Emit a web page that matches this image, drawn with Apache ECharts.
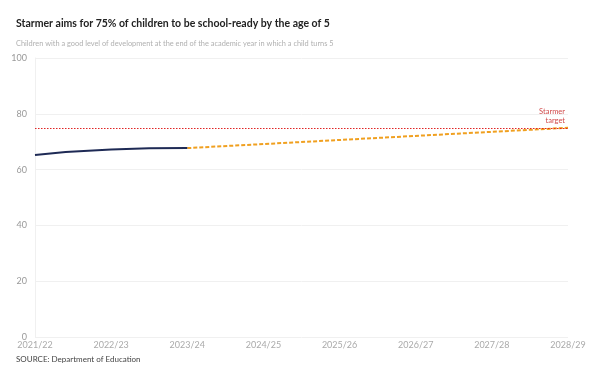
<!DOCTYPE html>
<html><head><meta charset="utf-8">
<script src="https://cdn.jsdelivr.net/npm/echarts@6/dist/echarts.min.js"></script>
<style>html,body{margin:0;padding:0;background:#fff}#c{width:600px;height:382px}</style>
</head><body><div id="c"></div>
<script>
const categories = ['2021/22','2022/23','2023/24','2024/25','2025/26','2026/27','2027/28','2028/29'];
const actual = [65.2, 67.2, 67.7, null, null, null, null, null];
const projected = [null, null, 67.7, null, null, null, null, 75];
const target = 75;
const yTicks = [0, 20, 40, 60, 80, 100];

const chart = echarts.init(document.getElementById('c'));
chart.setOption({
  animation: false,
  title: [
    {text: 'Starmer aims for 75% of children to be school-ready by the age of 5', left: 11, top: 13,
     textStyle: {fontFamily: 'Lato', fontWeight: 'bold', fontSize: 10.5, color: '#222'}},
    {text: 'Children with a good level of development at the end of the academic year in which a child turns 5', left: 11, top: 35,
     textStyle: {fontFamily: 'Lato', fontWeight: 'normal', fontSize: 7.4, color: '#b0b0b0'}},
    {text: 'SOURCE: Department of Education', left: 11, top: 350,
     textStyle: {fontFamily: 'Lato', fontWeight: 'normal', fontSize: 8, color: '#444'}}
  ],
  grid: {left: 35, right: 32, top: 58, bottom: 45},
  xAxis: {type: 'category', data: categories, boundaryGap: false,
    axisLine: {show: false}, axisTick: {show: false},
    splitLine: {show: false},
    axisLabel: {color: '#aaa', fontSize: 9, fontFamily: 'Lato', margin: 4}},
  yAxis: {type: 'value', min: yTicks[0], max: yTicks[yTicks.length-1], interval: 20,
    axisLine: {show: true, lineStyle: {color: '#f0f0f0'}}, axisTick: {show: false},
    splitLine: {lineStyle: {color: '#f0f0f0'}},
    axisLabel: {color: '#999', fontSize: 9, fontFamily: 'Lato', margin: 8}},
  series: [
    {type: 'line', data: actual, smooth: true, symbol: 'none',
     lineStyle: {color: '#1e2a55', width: 2}, z: 3,
     markLine: {silent: true, symbol: 'none',
       lineStyle: {color: '#e02525', type: [1.5, 1.5], width: 1.2, opacity: 1},
       label: {show: true, position: 'insideEndTop', formatter: 'Starmer\ntarget', color: '#d04a4a',
         fontSize: 7.5, fontFamily: 'Lato', align: 'right', lineHeight: 9, distance: [3, 3]},
       data: [{yAxis: target}]}},
    {type: 'line', data: projected, connectNulls: true, symbol: 'none',
     lineStyle: {color: '#f0a020', width: 2, type: [4, 2]}, z: 2}
  ]
});
</script></body></html>
